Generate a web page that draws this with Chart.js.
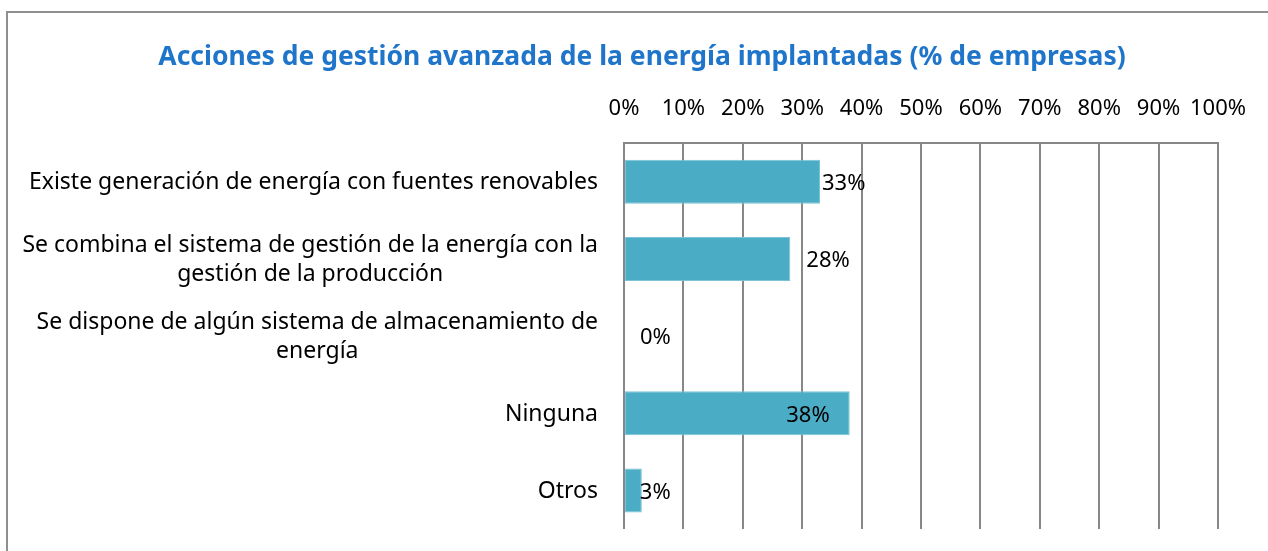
<!DOCTYPE html>
<html>
<head>
<meta charset="utf-8">
<script src="https://cdn.jsdelivr.net/npm/chart.js@4"></script>
<style>
  html, body { margin: 0; padding: 0; background: #fff; }
  #wrap { width: 1268px; height: 551px; }
</style>
</head>
<body>
<div id="wrap"><canvas id="accionesChart"></canvas></div>
<script>
const categories = [
  ["Existe generación de energía con fuentes renovables"],
  ["Se combina el sistema de gestión de la energía con la", "gestión de la producción"],
  ["Se dispone de algún sistema de almacenamiento de", "energía"],
  ["Ninguna"],
  ["Otros"],
];
const empresasPct = [33, 28, 0, 38, 3];
const xTicks = [0, 10, 20, 30, 40, 50, 60, 70, 80, 90, 100];

const FONT = "'Noto Sans', sans-serif";
const BAR_COLOR = "#4bacc6";
const GRID_COLOR = "#878787";

// little nudges for the value labels (px from the bar end)
const labelPlace = [
  { dx: 2, align: "left" },
  { dx: 16, align: "left" },
  { dx: 16, align: "left" },
  { dx: -20, align: "right" },
  { dx: -2, align: "left" },
];

// grey frame around the whole chart (only top and left edges fall inside the canvas)
const framePlugin = {
  id: "frame",
  beforeDraw(chart) {
    const ctx = chart.ctx;
    ctx.save();
    ctx.strokeStyle = "#8f8f8f";
    ctx.lineWidth = 2;
    ctx.beginPath();
    ctx.moveTo(7, chart.height + 5);
    ctx.lineTo(7, 12);
    ctx.lineTo(chart.width + 5, 12);
    ctx.stroke();
    ctx.restore();
  },
};

// category names: each block centred on itself, right edge against the axis
const categoryLabels = {
  id: "categoryLabels",
  afterDraw(chart) {
    const ctx = chart.ctx;
    const yScale = chart.scales.y;
    const right = chart.chartArea.left - 26;
    const lineH = 29;
    ctx.save();
    ctx.font = "23px " + FONT;
    ctx.fillStyle = "#000";
    ctx.textAlign = "center";
    ctx.textBaseline = "middle";
    categories.forEach((lines, i) => {
      const widest = Math.max(...lines.map((l) => ctx.measureText(l).width));
      const cx = right - widest / 2;
      const cy = yScale.getPixelForValue(i) + 1;
      const y0 = cy - ((lines.length - 1) * lineH) / 2;
      lines.forEach((l, j) => ctx.fillText(l, cx, y0 + j * lineH));
    });
    ctx.restore();
  },
};

// value labels next to the bars
const valueLabels = {
  id: "valueLabels",
  afterDatasetsDraw(chart) {
    const ctx = chart.ctx;
    const meta = chart.getDatasetMeta(0);
    ctx.save();
    ctx.font = "22px " + FONT;
    ctx.fillStyle = "#000";
    ctx.textBaseline = "middle";
    meta.data.forEach((bar, i) => {
      const p = labelPlace[i];
      ctx.textAlign = p.align;
      ctx.fillText(empresasPct[i] + "%", bar.x + p.dx, bar.y + 2);
    });
    ctx.restore();
  },
};

new Chart(document.getElementById("accionesChart"), {
  type: "bar",
  data: {
    labels: categories.map((c) => c.join(" ")),
    datasets: [
      {
        data: empresasPct,
        backgroundColor: BAR_COLOR,
        borderColor: "#7cc3d7",
        borderWidth: 1,
        borderSkipped: false,
        categoryPercentage: 1,
        barPercentage: 0.57,
      },
    ],
  },
  options: {
    indexAxis: "y",
    responsive: true,
    maintainAspectRatio: false,
    animation: false,
    layout: { padding: { left: 66, right: 50, top: 0, bottom: 22 } },
    scales: {
      x: {
        position: "top",
        min: 0,
        max: 100,
        afterBuildTicks: (scale) => {
          scale.ticks = xTicks.map((v) => ({ value: v }));
        },
        ticks: {
          autoSkip: false,
          maxRotation: 0,
          padding: 21,
          color: "#000",
          font: { family: FONT, size: 22 },
          callback: (v) => v + "%",
        },
        grid: { color: GRID_COLOR, lineWidth: 2, drawTicks: false },
        border: { color: GRID_COLOR, width: 2 },
      },
      y: {
        ticks: { display: false },
        grid: { display: false },
        border: { display: false },
        afterFit: (scale) => {
          scale.width = 558;
        },
      },
    },
    plugins: {
      legend: { display: false },
      tooltip: { enabled: false },
      title: {
        display: true,
        text: "Acciones de gestión avanzada de la energía implantadas (% de empresas)",
        color: "#1f75c9",
        font: { family: FONT, size: 26.5, weight: "bold" },
        padding: { top: 42, bottom: 1 },
      },
    },
  },
  plugins: [framePlugin, categoryLabels, valueLabels],
});
</script>
</body>
</html>
